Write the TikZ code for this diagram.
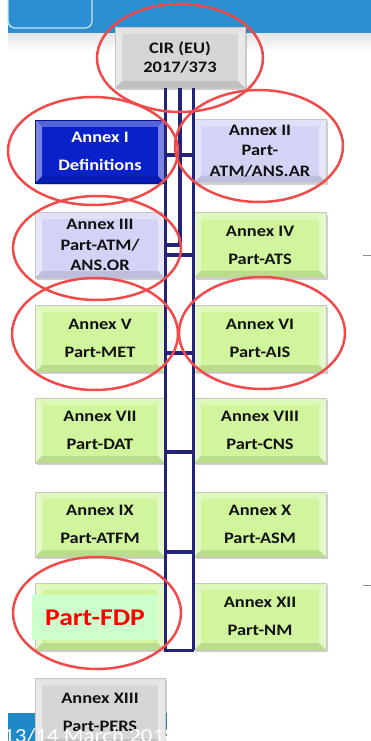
\documentclass[tikz,border=0pt]{standalone}
\usepackage{fontspec}
\newfontfamily\bxf[FakeStretch=1.15]{Carlito}
\usetikzlibrary{shapes.geometric,shadows}
\definecolor{bandblue}{HTML}{2A8ED0}
\definecolor{bandblue2}{HTML}{1E88C8}
\definecolor{boxgreen}{HTML}{D0F59C}
\definecolor{boxlav}{HTML}{D3D3F5}
\definecolor{boxblue}{HTML}{0A20C8}
\definecolor{boxgray}{HTML}{D6D6D6}
\definecolor{mint}{HTML}{CCFFCC}
\definecolor{busblue}{HTML}{23237A}
\definecolor{ringred}{HTML}{F04A4A}
\definecolor{txt}{HTML}{111111}
\tikzset{
  bevel/.style={path picture={
    \coordinate (pnw) at (path picture bounding box.north west);
    \coordinate (pne) at (path picture bounding box.north east);
    \coordinate (psw) at (path picture bounding box.south west);
    \coordinate (pse) at (path picture bounding box.south east);
    \fill[white,opacity=.30] (pnw) -- (pne) -- ([shift={(-7pt,-7pt)}]pne) -- ([shift={(7pt,-7pt)}]pnw) -- cycle;
    \fill[white,opacity=.45] (pnw) -- ([shift={(7pt,-7pt)}]pnw) -- ([shift={(7pt,7pt)}]psw) -- (psw) -- cycle;
    \fill[white,opacity=.45] (pne) -- (pse) -- ([shift={(-7pt,7pt)}]pse) -- ([shift={(-7pt,-7pt)}]pne) -- cycle;
    \fill[black,opacity=.10] (psw) -- ([shift={(7pt,7pt)}]psw) -- ([shift={(-7pt,7pt)}]pse) -- (pse) -- cycle;
  }},
  abox/.style={draw=black!22, line width=0.6pt, inner sep=0pt, align=center,
    minimum width=130pt, minimum height=65pt, text=txt,
    font=\bxf\bfseries\fontsize{16}{28}\selectfont, bevel,
    drop shadow={shadow xshift=1.5pt, shadow yshift=-2pt, opacity=0.3, fill=black!60}},
  gbox/.style={abox, fill=boxgreen},
  lbox/.style={abox, fill=boxlav},
  bbox/.style={abox, fill=boxblue, text=white, draw=boxblue!70!black},
  gybox/.style={abox, fill=boxgray},
  three/.style={font=\bxf\bfseries\fontsize{16}{20.5}\selectfont},
  bus/.style={draw=busblue, line width=3.5pt},
  ring/.style={ellipse, draw=ringred, line width=2.5pt, inner sep=0pt},
}
\begin{document}
\begin{tikzpicture}[x=1pt,y=-1pt]
\useasboundingbox (0,0) rectangle (371,741);
% header band
\fill[bandblue] (8,0) rectangle (371,34);
\shade[top color=black!10, bottom color=white] (8,34) rectangle (371,52);
\draw[white!75!bandblue, line width=1.3pt, rounded corners=7pt] (8,-12) rectangle (92,28);
% footer band
\fill[bandblue2] (8,713) rectangle (167,745);
% right fragments
\draw[black!45, line width=1pt] (363,255) -- (371,255);
\draw[black!45, line width=1pt] (363,585) -- (371,585);

% boxes
\node[gybox, minimum width=130pt, minimum height=61pt, font=\bxf\bfseries\fontsize{16}{19}\selectfont] (cir) at (180,57.5) {CIR (EU)\\2017/373};
\node[bbox, minimum height=63pt] (a1) at (100,151.5) {Annex I\\Definitions};
\node[lbox, three, minimum width=132pt, minimum height=63pt] (a2) at (260,151) {Annex II\\Part-\\ATM/ANS.AR};
\node[lbox, three, minimum height=66pt] (a3) at (100,245) {Annex III\\Part-ATM/\\ANS.OR};
\node[gbox, minimum width=132pt] (a4) at (260,245) {Annex IV\\Part-ATS};
\node[gbox, minimum height=67pt] (a5) at (100,338.5) {Annex V\\Part-MET};
\node[gbox, minimum width=132pt, minimum height=67pt] (a6) at (260,338.5) {Annex VI\\Part-AIS};
\node[gbox] (a7) at (100,430.5) {Annex VII\\Part-DAT};
\node[gbox, minimum width=132pt] (a8) at (260,430.5) {Annex VIII\\Part-CNS};
\node[gbox] (a9) at (100,524.5) {Annex IX\\Part-ATFM};
\node[gbox, minimum width=132pt] (a10) at (260,524.5) {Annex X\\Part-ASM};
\node[gbox, minimum height=67pt] (fdpbox) at (100,616.5) {};
\node[fill=mint, minimum width=126pt, minimum height=45pt, inner sep=0pt, text=red,
      font=\bxf\bfseries\fontsize{24}{24}\selectfont] (fdp) at (95,617.5) {Part-FDP};
\node[gbox, minimum width=132pt, minimum height=67pt] (a12) at (260,616.5) {Annex XII\\Part-NM};
\node[gybox, minimum height=68pt] (a13) at (100,712) {Annex XIII\\Part-PERS};
\node[anchor=base west, inner sep=0pt, text=white, font=\bxf\fontsize{20}{20}\selectfont] (date) at (3,742) {13/14 March 2018};

% bus connectors
\draw[bus] (cir.south -| fdpbox.east) -- (fdpbox.south east) -- (a12.south west);
\draw[bus] (cir.south -| a12.west) -- (a12.south west);
\draw[bus] (cir.south) |- (a3.east);
\draw[bus] ([yshift=-3.5pt]a1.east) -- ([yshift=-3.5pt]a1.east -| a2.west);
\draw[bus] ([yshift=-10pt]a3.east) -- ([yshift=-10pt]a3.east -| a4.west);
\draw[bus] ([yshift=-14.5pt]a5.east) -- ([yshift=-14.5pt]a5.east -| a6.west);
\draw[bus] ([yshift=-21.5pt]a7.east) -- ([yshift=-21.5pt]a7.east -| a8.west);
\draw[bus] ([yshift=-27.5pt]a9.east) -- ([yshift=-27.5pt]a9.east -| a10.west);

% red rings
\node[ring, minimum width=166pt, minimum height=108pt] (r0) at (180,58) {};
\node[ring, minimum width=170pt, minimum height=108pt] (r1) at (93,151) {};
\node[ring, minimum width=168pt, minimum height=112pt] (r2) at (259,146) {};
\node[ring, minimum width=168pt, minimum height=104pt] (r3) at (97,248) {};
\node[ring, minimum width=166pt, minimum height=112pt] (r5) at (95,334) {};
\node[ring, minimum width=166pt, minimum height=112pt] (r6) at (262,333) {};
\node[ring, minimum width=168pt, minimum height=112pt] (r7) at (97,613) {};
\end{tikzpicture}
\end{document}
